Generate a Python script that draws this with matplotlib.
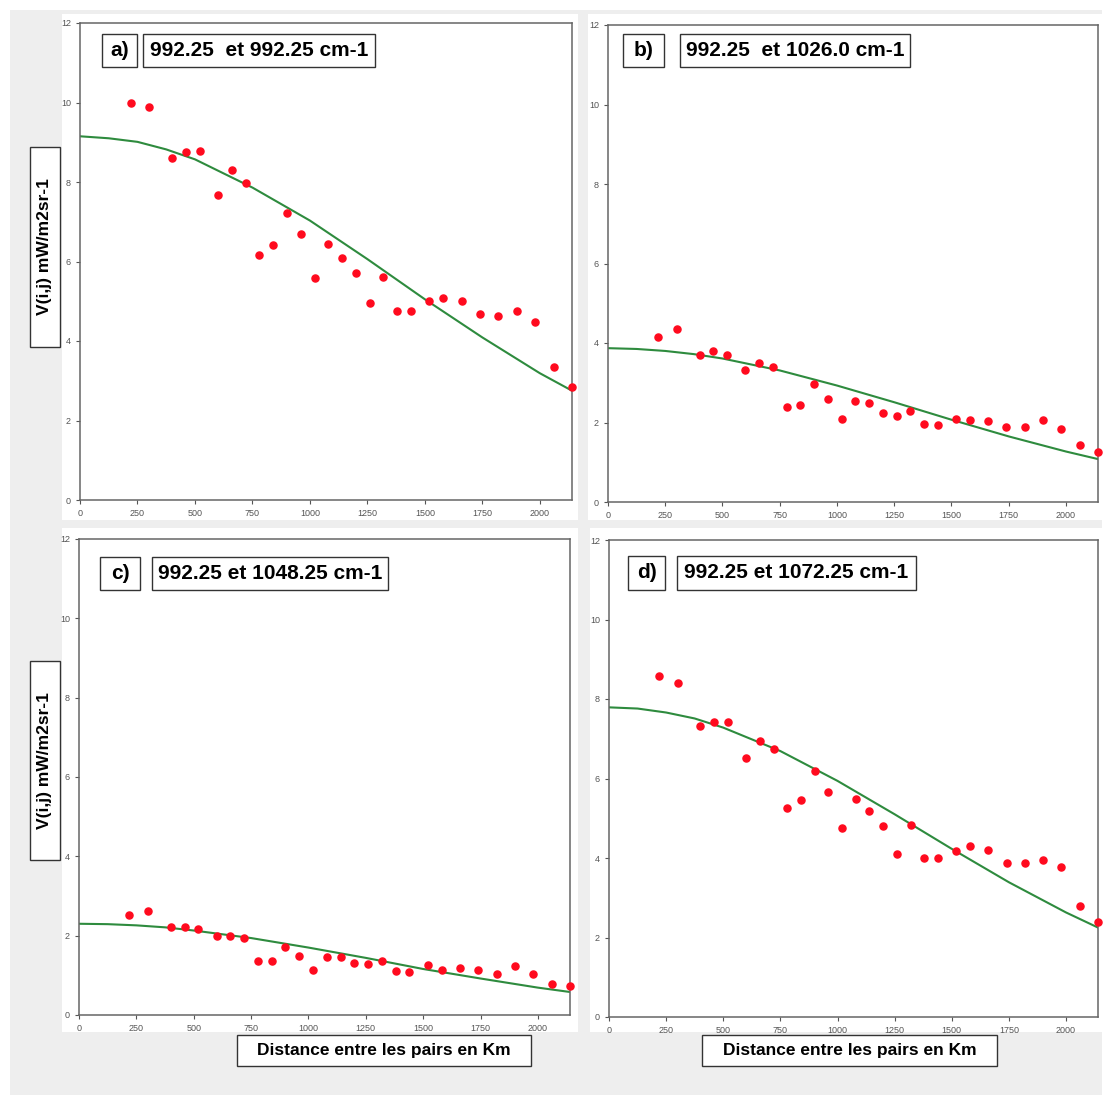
import matplotlib.pyplot as plt
from matplotlib.patches import Rectangle

W, H = 1108, 1097

# lag distances (km) of the experimental points
DIST = [220, 300, 400, 460, 520, 600, 660, 720, 780, 840, 900, 960, 1020, 1080,
        1140, 1200, 1260, 1320, 1380, 1440, 1520, 1580, 1660, 1740, 1820, 1900,
        1980, 2060, 2140]

V_A = [9.98, 9.89, 8.61, 8.75, 8.77, 7.68, 8.30, 7.98, 6.17, 6.42, 7.22, 6.68,
       5.58, 6.44, 6.08, 5.70, 4.96, 5.62, 4.76, 4.75, 5.01, 5.09, 5.00, 4.68,
       4.63, 4.75, 4.49, 3.35, 2.85]
V_B = [4.15, 4.34, 3.71, 3.81, 3.70, 3.31, 3.49, 3.39, 2.38, 2.45, 2.97, 2.60,
       2.10, 2.55, 2.48, 2.23, 2.16, 2.30, 1.97, 1.94, 2.10, 2.07, 2.03, 1.89,
       1.88, 2.06, 1.83, 1.43, 1.27]
V_C = [2.52, 2.61, 2.22, 2.22, 2.16, 1.99, 2.00, 1.93, 1.35, 1.36, 1.72, 1.49,
       1.14, 1.45, 1.47, 1.31, 1.29, 1.35, 1.10, 1.09, 1.27, 1.14, 1.18, 1.13,
       1.04, 1.23, 1.04, 0.77, 0.73]
V_D = [8.58, 8.40, 7.32, 7.42, 7.43, 6.52, 6.95, 6.74, 5.26, 5.46, 6.19, 5.66,
       4.76, 5.48, 5.18, 4.81, 4.11, 4.83, 4.00, 3.99, 4.18, 4.31, 4.20, 3.87,
       3.87, 3.95, 3.78, 2.79, 2.38]

# fitted model curves, read at these distances
MODEL_X = [0, 125, 250, 375, 500, 750, 1000, 1250, 1500, 1750, 2000, 2140]
MODEL_A = [9.15, 9.10, 9.01, 8.82, 8.57, 7.86, 7.03, 6.06, 5.05, 4.09, 3.19, 2.75]
MODEL_B = [3.87, 3.85, 3.80, 3.72, 3.61, 3.31, 2.93, 2.51, 2.07, 1.65, 1.27, 1.08]
MODEL_C = [2.30, 2.29, 2.26, 2.21, 2.13, 1.94, 1.70, 1.44, 1.16, 0.92, 0.69, 0.58]
MODEL_D = [7.79, 7.76, 7.66, 7.51, 7.28, 6.69, 5.94, 5.10, 4.23, 3.39, 2.63, 2.25]

LETTERS = ["a)", "b)", "c)", "d)"]
TITLES = ["992.25  et 992.25 cm-1", "992.25  et 1026.0 cm-1",
          "992.25 et 1048.25 cm-1", "992.25 et 1072.25 cm-1"]
YLABEL = "V(i,j) mW/m2sr-1"
XLABEL = "Distance entre les pairs en Km"
XTICKS = [0, 250, 500, 750, 1000, 1250, 1500, 1750, 2000]
YTICKS = [0, 2, 4, 6, 8, 10, 12]

plt.rcParams["font.family"] = ["Liberation Sans", "DejaVu Sans"]


def px_box(x0, y0, x1, y1):
    # pixel box (top-left origin) -> figure fraction [l, b, w, h]
    return [x0 / W, 1 - y1 / H, (x1 - x0) / W, (y1 - y0) / H]


def frame(fig, x0, y0, x1, y1, fc="white", ec="#333333", lw=1.0, z=0):
    l, b, w, h = px_box(x0, y0, x1, y1)
    fig.patches.append(Rectangle((l, b), w, h, transform=fig.transFigure,
                                 facecolor=fc, edgecolor=ec, linewidth=lw, zorder=z))


def boxed_text(fig, x0, y0, x1, y1, text, size, rotation=0):
    frame(fig, x0, y0, x1, y1, z=5)
    l, b, w, h = px_box(x0, y0, x1, y1)
    fig.text(l + w / 2, b + h / 2, text, ha="center", va="center", fontsize=size,
             fontweight="bold", rotation=rotation, zorder=6)


fig = plt.figure(figsize=(W / 100, H / 100), dpi=100, facecolor="white")

# gray page and white panel backgrounds
frame(fig, 10, 10, 1102, 1095, fc="#eeeeee", ec="none", z=-3)
for bx in [(62, 14, 578, 520), (588, 14, 1104, 520),
           (62, 528, 578, 1032), (590, 528, 1104, 1032)]:
    frame(fig, *bx, fc="white", ec="none", z=-2)

axes_px = [(80, 23, 572, 500), (608, 25, 1098, 502),
           (79, 539, 570, 1015), (609, 540, 1098, 1017)]
values = [V_A, V_B, V_C, V_D]
models = [MODEL_A, MODEL_B, MODEL_C, MODEL_D]
letter_px = [(102, 34, 137, 67), (623, 34, 664, 67),
             (100, 557, 140, 590), (628, 556, 665, 590)]
title_px = [(143, 34, 375, 67), (680, 34, 910, 67),
            (152, 557, 388, 590), (677, 556, 916, 590)]

for i in range(4):
    ax = fig.add_axes(px_box(*axes_px[i]))
    ax.plot(MODEL_X, models[i], color="#2e8b3e", linewidth=1.5, zorder=2)
    ax.scatter(DIST, values[i], s=26, color="#ff0a1e", zorder=3, clip_on=False)
    ax.set_xlim(0, 2140)
    ax.set_ylim(0, 12)
    ax.set_xticks(XTICKS)
    ax.set_yticks(YTICKS)
    ax.tick_params(labelsize=6.5, colors="#555555", length=3, width=0.8)
    for sp in ax.spines.values():
        sp.set_color("#666666")
        sp.set_linewidth(1.1)
    boxed_text(fig, *letter_px[i], LETTERS[i], 15)
    boxed_text(fig, *title_px[i], TITLES[i], 15)

boxed_text(fig, 30, 147, 60, 347, YLABEL, 12.5, rotation=90)
boxed_text(fig, 30, 661, 60, 860, YLABEL, 12.5, rotation=90)
boxed_text(fig, 237, 1035, 531, 1066, XLABEL, 12.5)
boxed_text(fig, 702, 1035, 997, 1066, XLABEL, 12.5)

fig.savefig("out.png", dpi=100, facecolor=fig.get_facecolor())
